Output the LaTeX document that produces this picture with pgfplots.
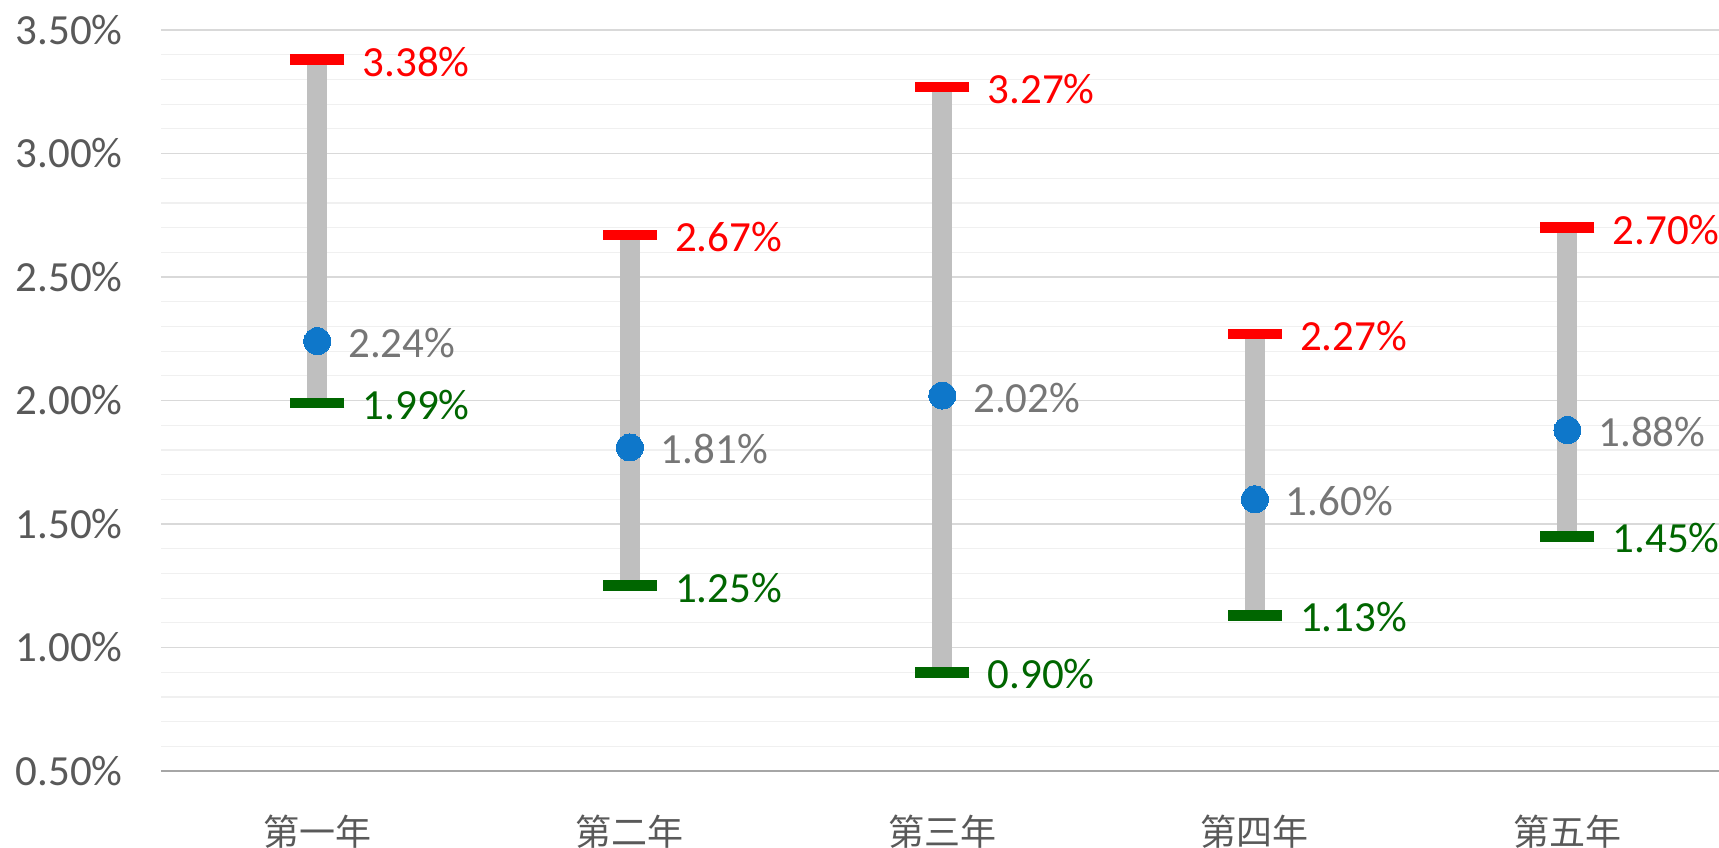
\documentclass[border=0pt]{standalone}
\usepackage{pgfplots}
\pgfplotsset{compat=1.18}
\usepackage{pgfplotstable}
\usepackage{fontspec}
\setmainfont{Carlito}
\newfontfamily\cjk{Noto Sans CJK TC}
\definecolor{tickgray}{HTML}{595959}
\definecolor{midgray}{HTML}{767676}
\definecolor{bargray}{HTML}{BFBFBF}
\definecolor{majgrid}{HTML}{D9D9D9}
\definecolor{mingrid}{HTML}{F0F0F0}
\definecolor{hired}{HTML}{FF0000}
\definecolor{logreen}{HTML}{006600}
\definecolor{dotblue}{HTML}{0E77CA}
\pgfplotstableread{
x low mid high
0 1.99 2.24 3.38
1 1.25 1.81 2.67
2 0.90 2.02 3.27
3 1.13 1.60 2.27
4 1.45 1.88 2.70
}\data
\begin{document}
\begin{tikzpicture}[x=1pt,y=1pt]
\begin{axis}[
  at={(0,0)}, anchor=south west,
  scale only axis,
  width=779pt, height=370.5pt,
  xmin=-0.5, xmax=4.485,
  ymin=0.5, ymax=3.5,
  /pgf/number format/assume math mode=true,
  axis x line*=bottom,
  axis y line*=left,
  x axis line style={draw=black!35, line width=0.7pt},
  y axis line style={draw=none},
  xtick={0,1,2,3,4},
  xticklabels={第一年,第二年,第三年,第四年,第五年},
  xticklabel style={font=\cjk\fontsize{18}{18}\selectfont, text=tickgray, anchor=center, yshift=-30.5pt},
  ytick={0.5,1,...,3.5},
  yticklabel={\pgfmathprintnumber[fixed,fixed zerofill,precision=2]{\tick}\%},
  yticklabel style={font=\fontsize{21.5}{21.5}\selectfont, text=tickgray, anchor=east, inner sep=0pt, xshift=-19pt},
  minor y tick num=4,
  ymajorgrids, yminorgrids,
  major grid style={draw=majgrid, line width=0.6pt},
  minor grid style={draw=mingrid, line width=0.6pt},
  tick style={draw=none},
  clip=false,
]
% vertical range bars
\addplot[only marks, mark=none,
  error bars/.cd, y dir=plus, y explicit, error mark=none,
  error bar style={line width=10pt, draw=bargray}]
  table[x=x, y=low, y error expr=\thisrow{high}-\thisrow{low}]{\data};
% high caps
\addplot[only marks, mark=-, mark size=13.5pt,
  mark options={line width=5.3pt, draw=hired},
  nodes near coords={\pgfmathprintnumber[fixed,fixed zerofill,precision=2]{\pgfplotspointmeta}\%},
  point meta=y,
  every node near coord/.append style={anchor=west, inner sep=0pt, xshift=20pt, yshift=-1pt,
    font=\fontsize{21.5}{21.5}\selectfont, text=hired}]
  table[x=x, y=high]{\data};
% low caps
\addplot[only marks, mark=-, mark size=13.5pt,
  mark options={line width=5.3pt, draw=logreen},
  nodes near coords={\pgfmathprintnumber[fixed,fixed zerofill,precision=2]{\pgfplotspointmeta}\%},
  point meta=y,
  every node near coord/.append style={anchor=west, inner sep=0pt, xshift=20pt, yshift=-1pt,
    font=\fontsize{21.5}{21.5}\selectfont, text=logreen}]
  table[x=x, y=low]{\data};
% mid points
\addplot[only marks, mark=*, mark size=6.75pt,
  mark options={draw=dotblue, fill=dotblue, line width=0pt},
  nodes near coords={\pgfmathprintnumber[fixed,fixed zerofill,precision=2]{\pgfplotspointmeta}\%},
  point meta=y,
  every node near coord/.append style={anchor=west, inner sep=0pt, xshift=15.5pt, yshift=-1pt,
    font=\fontsize{21.5}{21.5}\selectfont, text=midgray}]
  table[x=x, y=mid]{\data};
\end{axis}
\pgfresetboundingbox
\path (-80.5pt,-38pt) rectangle (779pt,385.5pt);
\end{tikzpicture}
\end{document}
